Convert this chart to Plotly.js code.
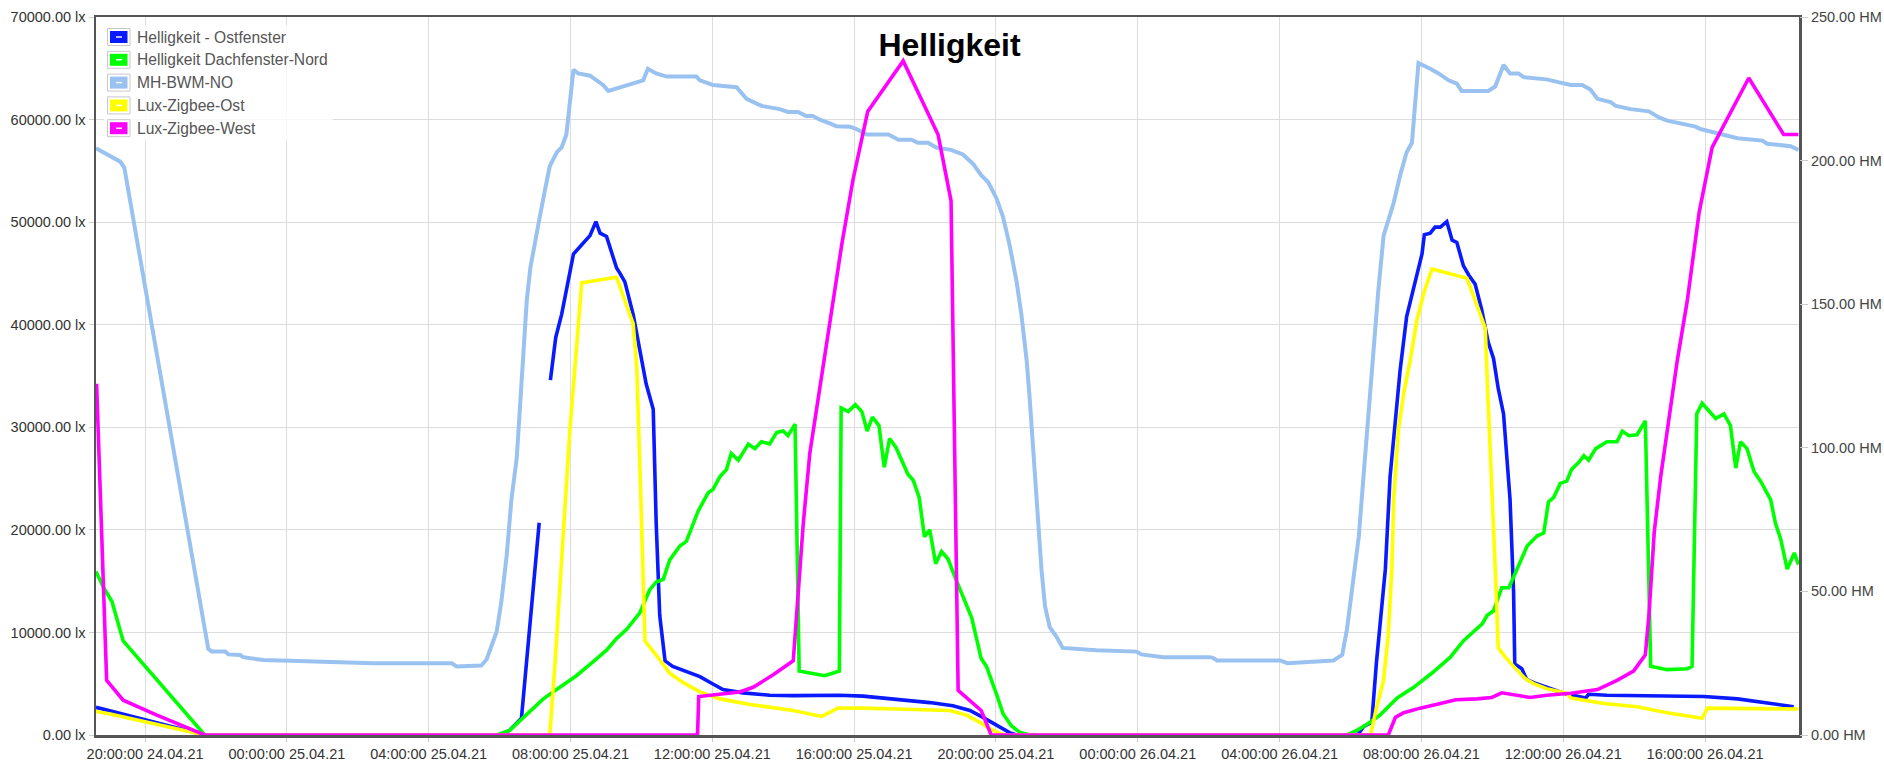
<!DOCTYPE html>
<html><head><meta charset="utf-8">
<script src="https://cdn.plot.ly/plotly-3.0.1.min.js"></script>
<style>html,body{margin:0;padding:0;background:#fff;}#chart{width:1884px;height:778px;}</style>
</head><body><div id="chart"></div>
<script>
const seriesNames = ['Helligkeit - Ostfenster','Helligkeit Dachfenster-Nord','MH-BWM-NO','Lux-Zigbee-Ost','Lux-Zigbee-West'];
const xTickStart = '2021-04-24 20:00';
const xRange = ['2021-04-24 18:37','2021-04-26 18:39'];

// Helligkeit - Ostfenster
const ostfensterTimes = ['2021-04-24 18:37','2021-04-24 19:01','2021-04-24 21:41','2021-04-25 06:01','2021-04-25 06:17','2021-04-25 06:37','2021-04-25 07:07','2021-04-25 07:15','2021-04-25 07:26','2021-04-25 07:35','2021-04-25 07:45','2021-04-25 07:56','2021-04-25 08:05','2021-04-25 08:19','2021-04-25 08:33','2021-04-25 08:43','2021-04-25 08:50','2021-04-25 09:01','2021-04-25 09:18','2021-04-25 09:23','2021-04-25 09:32','2021-04-25 09:46','2021-04-25 09:55','2021-04-25 10:00','2021-04-25 10:08','2021-04-25 10:20','2021-04-25 10:25','2021-04-25 10:31','2021-04-25 10:40','2021-04-25 10:53','2021-04-25 11:16','2021-04-25 11:39','2021-04-25 12:01','2021-04-25 12:18','2021-04-25 12:52','2021-04-25 13:37','2021-04-25 14:17','2021-04-25 15:35','2021-04-25 16:15','2021-04-25 17:11','2021-04-25 18:08','2021-04-25 18:47','2021-04-25 19:16','2021-04-25 19:38','2021-04-25 20:01','2021-04-25 20:23','2021-04-25 20:35','2021-04-26 06:12','2021-04-26 06:22','2021-04-26 06:36','2021-04-26 06:44','2021-04-26 06:53','2021-04-26 06:59','2021-04-26 07:07','2021-04-26 07:16','2021-04-26 07:24','2021-04-26 07:35','2021-04-26 07:47','2021-04-26 08:01','2021-04-26 08:05','2021-04-26 08:15','2021-04-26 08:23','2021-04-26 08:32','2021-04-26 08:43','2021-04-26 08:52','2021-04-26 09:00','2021-04-26 09:11','2021-04-26 09:20','2021-04-26 09:31','2021-04-26 09:42','2021-04-26 09:53','2021-04-26 10:02','2021-04-26 10:10','2021-04-26 10:19','2021-04-26 10:30','2021-04-26 10:36','2021-04-26 10:38','2021-04-26 10:50','2021-04-26 10:58','2021-04-26 11:10','2021-04-26 11:32','2021-04-26 11:55','2021-04-26 12:01','2021-04-26 12:38','2021-04-26 12:43','2021-04-26 13:14','2021-04-26 14:05','2021-04-26 15:02','2021-04-26 15:58','2021-04-26 16:55','2021-04-26 17:34','2021-04-26 17:56','2021-04-26 18:30'];
const ostfensterValues = [2700,2350,0,0,450,1630,20690,null,34600,38760,41010,44180,46890,47790,48690,50050,48920,48600,45530,45080,44180,41010,38300,36950,34240,31760,20690,11650,7230,6690,6230,5690,4970,4430,4110,3880,3840,3880,3790,3520,3160,2850,2390,1720,950,230,0,0,810,1260,7140,12560,16170,25200,30630,35590,40790,43720,46890,48780,48920,49510,49510,50050,48240,48020,45760,44850,43950,41470,38300,36720,33790,31300,22950,13910,6910,6460,5420,5100,4650,4200,4070,3610,3970,3880,3840,3840,3750,3520,3210,2980,2760];

// Helligkeit Dachfenster-Nord
const dachfensterTimes = ['2021-04-24 18:37','2021-04-24 18:50','2021-04-24 19:04','2021-04-24 19:23','2021-04-24 21:41','2021-04-25 05:55','2021-04-25 06:17','2021-04-25 06:34','2021-04-25 06:52','2021-04-25 07:14','2021-04-25 07:42','2021-04-25 08:10','2021-04-25 08:38','2021-04-25 09:01','2021-04-25 09:18','2021-04-25 09:35','2021-04-25 09:57','2021-04-25 10:14','2021-04-25 10:25','2021-04-25 10:37','2021-04-25 10:48','2021-04-25 11:05','2021-04-25 11:16','2021-04-25 11:36','2021-04-25 11:53','2021-04-25 12:01','2021-04-25 12:13','2021-04-25 12:24','2021-04-25 12:32','2021-04-25 12:44','2021-04-25 13:01','2021-04-25 13:12','2021-04-25 13:23','2021-04-25 13:37','2021-04-25 13:49','2021-04-25 14:00','2021-04-25 14:08','2021-04-25 14:20','2021-04-25 14:27','2021-04-25 14:50','2021-04-25 15:10','2021-04-25 15:30','2021-04-25 15:35','2021-04-25 15:38','2021-04-25 15:50','2021-04-25 16:02','2021-04-25 16:13','2021-04-25 16:22','2021-04-25 16:31','2021-04-25 16:42','2021-04-25 16:51','2021-04-25 17:00','2021-04-25 17:11','2021-04-25 17:31','2021-04-25 17:40','2021-04-25 17:50','2021-04-25 17:59','2021-04-25 18:08','2021-04-25 18:18','2021-04-25 18:28','2021-04-25 18:39','2021-04-25 18:50','2021-04-25 19:07','2021-04-25 19:19','2021-04-25 19:35','2021-04-25 19:44','2021-04-25 20:01','2021-04-25 20:12','2021-04-25 20:26','2021-04-25 20:40','2021-04-25 20:57','2021-04-26 05:54','2021-04-26 06:11','2021-04-26 06:28','2021-04-26 06:50','2021-04-26 07:19','2021-04-26 07:47','2021-04-26 08:20','2021-04-26 08:49','2021-04-26 09:11','2021-04-26 09:28','2021-04-26 09:43','2021-04-26 09:51','2021-04-26 10:02','2021-04-26 10:16','2021-04-26 10:28','2021-04-26 10:59','2021-04-26 11:16','2021-04-26 11:27','2021-04-26 11:35','2021-04-26 11:44','2021-04-26 11:55','2021-04-26 12:06','2021-04-26 12:14','2021-04-26 12:26','2021-04-26 12:35','2021-04-26 12:43','2021-04-26 12:55','2021-04-26 13:14','2021-04-26 13:31','2021-04-26 13:40','2021-04-26 13:51','2021-04-26 14:05','2021-04-26 14:19','2021-04-26 14:28','2021-04-26 14:56','2021-04-26 15:30','2021-04-26 15:38','2021-04-26 15:46','2021-04-26 15:55','2021-04-26 16:18','2021-04-26 16:32','2021-04-26 16:43','2021-04-26 16:52','2021-04-26 17:00','2021-04-26 17:11','2021-04-26 17:23','2021-04-26 17:34','2021-04-26 17:51','2021-04-26 17:59','2021-04-26 18:08','2021-04-26 18:19','2021-04-26 18:31','2021-04-26 18:38'];
const dachfensterValues = [15950,14360,13010,9170,0,0,450,1360,2390,3520,4650,5780,7140,8270,9400,10300,11880,14140,14910,15180,17070,18430,18880,21820,23620,23940,25200,25880,27460,26790,28370,27920,28590,28370,29500,29630,29180,30310,6230,6010,5780,6140,6230,31890,31530,32210,31530,29630,30990,30170,26110,28910,28010,25430,24840,23170,19330,20010,16710,17890,17160,15490,13010,11430,7450,6690,3970,2080,900,270,0,0,450,1040,1940,3610,4650,6140,7590,9170,10070,10840,11650,12110,14360,14360,18430,19420,19690,22720,23170,24530,24750,25880,26560,27240,26790,27920,28590,28590,29630,29180,29270,30630,6690,6370,6460,6690,31300,32340,30850,31300,30170,26020,28590,27920,25660,24750,22950,20690,19110,16170,17750,16620];

// MH-BWM-NO
const bwmTimes = ['2021-04-24 18:37','2021-04-24 18:50','2021-04-24 18:58','2021-04-24 19:18','2021-04-24 19:25','2021-04-24 21:47','2021-04-24 21:53','2021-04-24 22:16','2021-04-24 22:21','2021-04-24 22:41','2021-04-24 22:46','2021-04-24 23:20','2021-04-25 00:05','2021-04-25 02:26','2021-04-25 04:39','2021-04-25 04:47','2021-04-25 05:29','2021-04-25 05:38','2021-04-25 05:55','2021-04-25 06:03','2021-04-25 06:12','2021-04-25 06:20','2021-04-25 06:29','2021-04-25 06:34','2021-04-25 06:40','2021-04-25 06:46','2021-04-25 06:52','2021-04-25 07:00','2021-04-25 07:08','2021-04-25 07:17','2021-04-25 07:25','2021-04-25 07:37','2021-04-25 07:45','2021-04-25 07:53','2021-04-25 08:05','2021-04-25 08:13','2021-04-25 08:33','2021-04-25 08:55','2021-04-25 09:04','2021-04-25 10:03','2021-04-25 10:11','2021-04-25 10:25','2021-04-25 10:43','2021-04-25 11:33','2021-04-25 11:39','2021-04-25 12:01','2021-04-25 12:41','2021-04-25 12:58','2021-04-25 13:12','2021-04-25 13:23','2021-04-25 13:54','2021-04-25 14:08','2021-04-25 14:25','2021-04-25 14:39','2021-04-25 14:50','2021-04-25 15:02','2021-04-25 15:19','2021-04-25 15:30','2021-04-25 15:53','2021-04-25 16:04','2021-04-25 16:21','2021-04-25 16:58','2021-04-25 17:15','2021-04-25 17:37','2021-04-25 17:48','2021-04-25 18:05','2021-04-25 18:19','2021-04-25 18:44','2021-04-25 19:04','2021-04-25 19:21','2021-04-25 19:35','2021-04-25 19:47','2021-04-25 20:01','2021-04-25 20:12','2021-04-25 20:23','2021-04-25 20:35','2021-04-25 20:43','2021-04-25 20:52','2021-04-25 20:57','2021-04-25 21:03','2021-04-25 21:11','2021-04-25 21:17','2021-04-25 21:23','2021-04-25 21:31','2021-04-25 21:42','2021-04-25 21:53','2021-04-25 22:50','2021-04-25 23:58','2021-04-26 00:06','2021-04-26 00:43','2021-04-26 02:02','2021-04-26 02:08','2021-04-26 02:14','2021-04-26 04:01','2021-04-26 04:13','2021-04-26 04:35','2021-04-26 05:31','2021-04-26 05:46','2021-04-26 05:54','2021-04-26 06:02','2021-04-26 06:14','2021-04-26 06:22','2021-04-26 06:31','2021-04-26 06:39','2021-04-26 06:47','2021-04-26 06:56','2021-04-26 07:04','2021-04-26 07:13','2021-04-26 07:24','2021-04-26 07:35','2021-04-26 07:44','2021-04-26 07:55','2021-04-26 08:15','2021-04-26 08:29','2021-04-26 08:46','2021-04-26 09:00','2021-04-26 09:08','2021-04-26 09:53','2021-04-26 10:05','2021-04-26 10:19','2021-04-26 10:30','2021-04-26 10:44','2021-04-26 10:53','2021-04-26 11:32','2021-04-26 11:55','2021-04-26 12:13','2021-04-26 12:32','2021-04-26 12:46','2021-04-26 12:58','2021-04-26 13:20','2021-04-26 13:29','2021-04-26 13:54','2021-04-26 14:25','2021-04-26 14:42','2021-04-26 14:56','2021-04-26 15:24','2021-04-26 15:44','2021-04-26 15:52','2021-04-26 16:15','2021-04-26 16:37','2021-04-26 16:55','2021-04-26 17:37','2021-04-26 17:45','2021-04-26 18:25','2021-04-26 18:38'];
const bwmValues = [57200,56800,56460,55900,55300,8400,8130,8130,7860,7810,7590,7320,7230,7000,7000,6690,6780,7360,10070,13000,17500,22950,27000,32000,37850,42370,45530,47790,50500,53200,55470,56820,57280,58540,64860,64500,64280,63370,62790,63830,64950,64500,64190,64190,63830,63370,63150,62020,61660,61340,61020,60750,60750,60350,60350,59990,59620,59350,59310,59080,58540,58540,58040,58040,57730,57730,57280,57050,56600,55700,54570,53890,52310,50500,47790,44180,41010,36500,32880,27460,20690,16170,12560,10520,9620,8490,8270,8130,7860,7590,7590,7500,7270,7270,7000,7050,7270,7810,10300,13910,19330,25200,31980,37850,43270,48690,50050,51860,54570,56820,57730,65500,64950,64500,63830,63510,62790,62790,63240,65320,64500,64500,64140,63920,63600,63370,63370,62920,62020,61700,61340,61020,60800,60210,59900,59530,59310,59080,58720,58400,58180,57950,57640,57410,57050];

// Lux-Zigbee-Ost
const zigbeeOstTimes = ['2021-04-24 18:37','2021-04-24 19:01','2021-04-24 21:41','2021-04-25 07:25','2021-04-25 07:34','2021-04-25 07:59','2021-04-25 08:19','2021-04-25 09:18','2021-04-25 09:46','2021-04-25 09:52','2021-04-25 09:58','2021-04-25 10:06','2021-04-25 10:31','2021-04-25 10:48','2021-04-25 11:11','2021-04-25 11:39','2021-04-25 12:13','2021-04-25 13:04','2021-04-25 14:17','2021-04-25 15:05','2021-04-25 15:33','2021-04-25 16:15','2021-04-25 17:11','2021-04-25 18:08','2021-04-25 18:42','2021-04-25 19:10','2021-04-25 19:32','2021-04-25 19:50','2021-04-25 20:07','2021-04-25 20:18','2021-04-26 06:34','2021-04-26 06:44','2021-04-26 06:56','2021-04-26 07:04','2021-04-26 07:10','2021-04-26 07:13','2021-04-26 07:21','2021-04-26 07:30','2021-04-26 07:41','2021-04-26 07:52','2021-04-26 08:05','2021-04-26 08:18','2021-04-26 09:17','2021-04-26 09:31','2021-04-26 09:48','2021-04-26 09:53','2021-04-26 09:59','2021-04-26 10:05','2021-04-26 10:10','2021-04-26 10:22','2021-04-26 10:36','2021-04-26 10:56','2021-04-26 11:10','2021-04-26 11:32','2021-04-26 12:06','2021-04-26 12:13','2021-04-26 13:09','2021-04-26 14:05','2021-04-26 14:56','2021-04-26 15:55','2021-04-26 16:04','2021-04-26 17:23','2021-04-26 18:38'];
const zigbeeOstValues = [2300,2050,0,0,7140,29720,44090,44630,40110,36050,25200,9170,7360,6010,5100,4200,3520,2980,2390,1810,2620,2620,2530,2480,2390,1940,1260,590,140,0,0,2620,5330,9850,16170,22950,29720,33340,36500,40340,43270,45440,44540,42370,39660,32430,25200,16170,8490,7590,6690,5470,5010,4520,4070,3610,3070,2760,2170,1630,2620,2530,2530];

// Lux-Zigbee-West
const zigbeeWestTimes = ['2021-04-24 18:38','2021-04-24 18:55','2021-04-24 19:23','2021-04-24 20:20','2021-04-24 21:41','2021-04-25 11:35','2021-04-25 11:37','2021-04-25 12:46','2021-04-25 13:09','2021-04-25 13:43','2021-04-25 14:17','2021-04-25 14:34','2021-04-25 14:45','2021-04-25 15:03','2021-04-25 15:21','2021-04-25 15:39','2021-04-25 15:58','2021-04-25 16:23','2021-04-25 17:23','2021-04-25 18:22','2021-04-25 18:44','2021-04-25 18:56','2021-04-25 19:35','2021-04-25 19:52','2021-04-26 07:04','2021-04-26 07:16','2021-04-26 07:30','2021-04-26 07:58','2021-04-26 08:32','2021-04-26 08:58','2021-04-26 09:34','2021-04-26 09:59','2021-04-26 10:16','2021-04-26 10:41','2021-04-26 11:04','2021-04-26 11:32','2021-04-26 12:13','2021-04-26 12:58','2021-04-26 13:31','2021-04-26 13:59','2021-04-26 14:19','2021-04-26 14:25','2021-04-26 14:34','2021-04-26 14:45','2021-04-26 14:59','2021-04-26 15:13','2021-04-26 15:30','2021-04-26 15:50','2021-04-26 16:12','2021-04-26 17:14','2021-04-26 18:13','2021-04-26 18:38'];
const zigbeeWestValues = [34240,5330,3390,1940,0,0,3750,4200,4650,5870,7230,20690,27460,34240,40500,47790,54110,60800,65720,58540,52080,4340,2390,0,0,1720,2170,2620,3070,3430,3520,3660,4110,3840,3660,3880,4070,4430,5330,6230,7810,11650,19780,25200,31080,36500,42370,50950,57280,64050,58540,58540];

const leftTickSuffix = ' lx';
const rightTickSuffix = ' HM';
const rightRange = [0, 250];
const leftRange = [0, 70000];

const colors = ['#0a1aff','#00ff00','#99c2f0','#ffff00','#ff00ff'];
const seriesX = [ostfensterTimes, dachfensterTimes, bwmTimes, zigbeeOstTimes, zigbeeWestTimes];
const seriesY = [ostfensterValues, dachfensterValues, bwmValues, zigbeeOstValues, zigbeeWestValues];
const widths = [3.6, 3.6, 4, 3.6, 3.6];

const traces = seriesNames.map((n, i) => ({
  type: 'scatter', mode: 'lines', name: n,
  x: seriesX[i], y: seriesY[i],
  line: {color: colors[i], width: widths[i]},
  connectgaps: false, showlegend: false, hoverinfo: 'skip'
}));
// empty trace so the secondary (HM) axis is drawn
traces.push({type: 'scatter', mode: 'lines', x: [], y: [], yaxis: 'y2', showlegend: false, hoverinfo: 'skip'});

// plot area in pixels
const L = 96, R = 1799, T = 17, B = 735;
const px = p => (p - L) / (R - L);
const py = p => (B - p) / (B - T);

const font = 'Liberation Sans, Arial, sans-serif';
const shapes = [];
const annotations = [];
shapes.push({type:'rect', xref:'paper', yref:'paper', x0:px(104), x1:px(333), y0:py(141), y1:py(25),
  fillcolor:'rgba(255,255,255,0.8)', line:{width:0}, layer:'above'});
seriesNames.forEach((n, i) => {
  const cy = 37 + i * 22.8;
  shapes.push({type:'rect', xref:'paper', yref:'paper', x0:px(107.5), x1:px(130), y0:py(cy+8.5), y1:py(cy-8.5),
    fillcolor:'#ffffff', line:{color:'#c8c8c8', width:1}, layer:'above'});
  shapes.push({type:'rect', xref:'paper', yref:'paper', x0:px(110), x1:px(127.5), y0:py(cy+6), y1:py(cy-6),
    fillcolor:colors[i], line:{width:0}, layer:'above'});
  shapes.push({type:'rect', xref:'paper', yref:'paper', x0:px(116), x1:px(122), y0:py(cy+0.7), y1:py(cy-0.7),
    fillcolor:'#ffffff', line:{width:0}, layer:'above'});
  annotations.push({xref:'paper', yref:'paper', x:px(135), y:py(cy), xanchor:'left', yanchor:'middle',
    text:n, showarrow:false, font:{family:font, size:15.6, color:'#555555'}});
});

const layout = {
  width: 1884, height: 778,
  margin: {l: L, r: 1884 - R, t: T, b: 778 - B, pad: 0},
  paper_bgcolor: '#ffffff', plot_bgcolor: '#ffffff',
  font: {family: font, size: 14.5, color: '#333333'},
  title: {text: 'Helligkeit', x: 0.504, xref: 'container', xanchor: 'center',
    y: 1 - 45/778, yref: 'container', yanchor: 'middle',
    font: {family: font, size: 32, weight: 'bold', color: '#000000'}},
  showlegend: false,
  xaxis: {type: 'date', range: xRange, tick0: xTickStart, dtick: 4*3600*1000,
    tickformat: '%H:%M:%S %d.%m.%y', showgrid: true, gridcolor: '#dddddd', gridwidth: 1,
    showline: true, linecolor: '#555555', linewidth: 2.5, mirror: true,
    ticks: 'outside', ticklen: 4, tickcolor: '#cccccc', zeroline: false,
    tickfont: {family: font, size: 14.5, color: '#333333'}},
  yaxis: {range: leftRange, dtick: 10000, tickformat: '.2f', ticksuffix: leftTickSuffix,
    showgrid: true, gridcolor: '#dddddd', gridwidth: 1, zeroline: false,
    showline: true, linecolor: '#555555', linewidth: 2.5, mirror: true,
    ticks: 'outside', ticklen: 5, tickcolor: '#cccccc',
    tickfont: {family: font, size: 14.5, color: '#333333'}},
  yaxis2: {overlaying: 'y', side: 'right', anchor: 'x', range: rightRange, autorange: false, dtick: 50,
    tickformat: '.2f', ticksuffix: rightTickSuffix, showgrid: false, zeroline: false,
    showline: false, ticks: 'outside', ticklen: 8, tickcolor: '#cccccc',
    tickfont: {family: font, size: 14.5, color: '#444444'}},
  shapes: shapes,
  annotations: annotations
};

Plotly.newPlot('chart', traces, layout, {displayModeBar: false, staticPlot: true});
</script>
</body></html>
